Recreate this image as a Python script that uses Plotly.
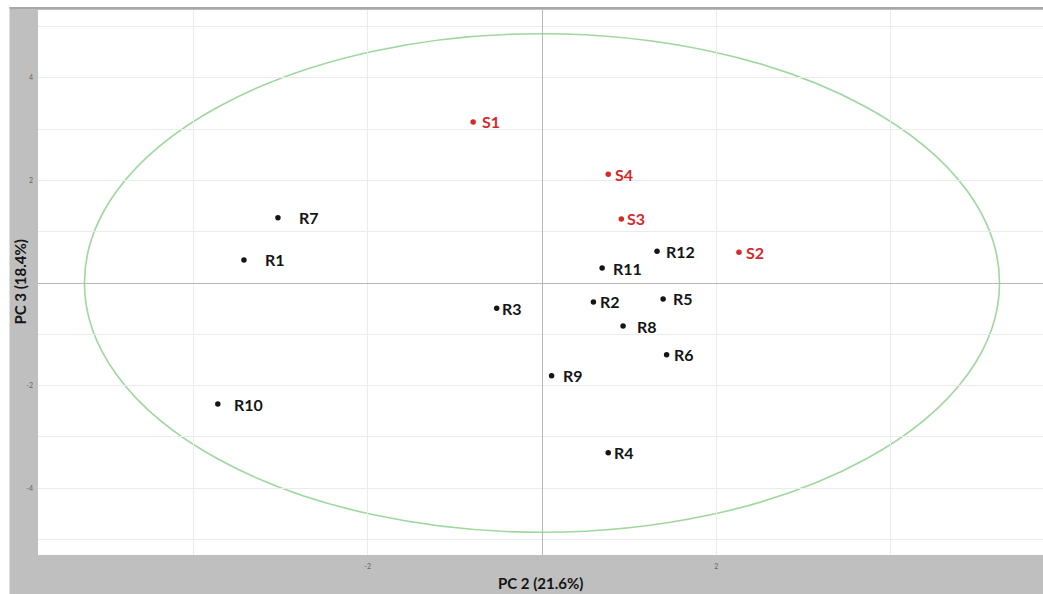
import plotly.graph_objects as go

# ---- data ----
sample_names = ["S1", "S2", "S3", "S4"]
sample_pc2 = [-0.79, 2.26, 0.91, 0.76]
sample_pc3 = [3.14, 0.60, 1.25, 2.12]

ref_names = ["R1", "R2", "R3", "R4", "R5", "R6", "R7", "R8", "R9", "R10", "R11", "R12"]
ref_pc2 = [-3.42, 0.59, -0.52, 0.76, 1.39, 1.43, -3.03, 0.93, 0.11, -3.72, 0.69, 1.32]
ref_pc3 = [0.45, -0.37, -0.49, -3.31, -0.31, -1.40, 1.27, -0.84, -1.81, -2.36, 0.29, 0.62]

ellipse_a = 5.25   # PC2 semi-axis
ellipse_b = 4.86   # PC3 semi-axis

x_tickvals = [-4, -2, 0, 2, 4]
x_ticktext = ["", "-2", "", "2", ""]
y_tickvals = [-5, -4, -3, -2, -1, 0, 1, 2, 3, 4, 5]
y_ticktext = ["", "-4", "", "-2", "", "", "", "2", "", "4", ""]

x_title = "PC 2 (21.6%)"
y_title = "PC 3 (18.4%)"

# label horizontal gaps (style)
sample_gap = [7, 5, 4, 5]
ref_gap = [19, 5, 3, 4, 8, 5, 19, 12, 9, 14, 9, 7]

# ---- layout geometry ----
W, H = 1043, 594
ML, MR, MT, MB = 38, 0, 10, 39
PW, PH = W - ML - MR, H - MT - MB

RED = "#d42a2a"
BLACK = "#151515"
GRAY = "#bfbfbf"
FONT = "Lato"

fig = go.Figure()

fig.add_shape(type="circle", xref="x", yref="y",
              x0=-ellipse_a, x1=ellipse_a, y0=-ellipse_b, y1=ellipse_b,
              line=dict(color="#9fd79f", width=1.6), layer="below")

fig.add_trace(go.Scatter(x=ref_pc2, y=ref_pc3, mode="markers",
                         marker=dict(color=BLACK, size=5.5), hoverinfo="skip"))
fig.add_trace(go.Scatter(x=sample_pc2, y=sample_pc3, mode="markers",
                         marker=dict(color=RED, size=5.5), hoverinfo="skip"))

for n, x, y, g in zip(ref_names, ref_pc2, ref_pc3, ref_gap):
    fig.add_annotation(x=x, y=y, text="<b>%s</b>" % n, showarrow=False,
                       xanchor="left", yanchor="middle", xshift=g,
                       font=dict(family=FONT, size=16, color=BLACK))
for n, x, y, g in zip(sample_names, sample_pc2, sample_pc3, sample_gap):
    fig.add_annotation(x=x, y=y, text="<b>%s</b>" % n, showarrow=False,
                       xanchor="left", yanchor="middle", xshift=g,
                       font=dict(family=FONT, size=16, color=RED))

# paper decorations (white margins outside grey frame)
def px_x(p):
    return (p - ML) / PW

def px_y(p):
    return (H - MB - p) / PH

fig.add_shape(type="rect", xref="paper", yref="paper",
              x0=px_x(0), x1=px_x(9.5), y0=px_y(H), y1=px_y(0),
              fillcolor="white", line_width=0, layer="above")
fig.add_shape(type="rect", xref="paper", yref="paper",
              x0=px_x(0), x1=px_x(W), y0=px_y(7), y1=px_y(0),
              fillcolor="white", line_width=0, layer="above")
fig.add_shape(type="line", xref="paper", yref="paper",
              x0=px_x(9.5), x1=px_x(W), y0=px_y(8), y1=px_y(8),
              line=dict(color="#a8a8a8", width=2), layer="above")

# axis titles as annotations
fig.add_annotation(xref="paper", yref="paper", x=0.5, y=px_y(583),
                   text="<b>%s</b>" % x_title, showarrow=False,
                   xanchor="center", yanchor="middle",
                   font=dict(family=FONT, size=15, color=BLACK))
fig.add_annotation(xref="paper", yref="paper", x=px_x(19), y=0.5,
                   text="<b>%s</b>" % y_title, showarrow=False, textangle=-90,
                   xanchor="center", yanchor="middle",
                   font=dict(family=FONT, size=15, color=BLACK))

fig.update_layout(
    width=W, height=H,
    margin=dict(l=ML, r=MR, t=MT, b=MB, pad=0),
    paper_bgcolor=GRAY, plot_bgcolor="white",
    showlegend=False,
    xaxis=dict(range=[(ML - 542) / 87.15, (W - 542) / 87.15],
               tickvals=x_tickvals, ticktext=x_ticktext,
               showgrid=True, gridcolor="#ebebeb", gridwidth=1,
               zeroline=True, zerolinecolor="#b8b8b8", zerolinewidth=1,
               showline=False, ticks="", ticklabelstandoff=6,
               tickfont=dict(family=FONT, size=7, color="#666")),
    yaxis=dict(range=[(283 - (H - MB)) / 51.3, (283 - MT) / 51.3],
               tickvals=y_tickvals, ticktext=y_ticktext,
               showgrid=True, gridcolor="#ebebeb", gridwidth=1,
               zeroline=True, zerolinecolor="#b8b8b8", zerolinewidth=1,
               showline=False, ticks="", ticklabelstandoff=4,
               tickfont=dict(family=FONT, size=7, color="#666")),
)

fig.write_html("out.html")
